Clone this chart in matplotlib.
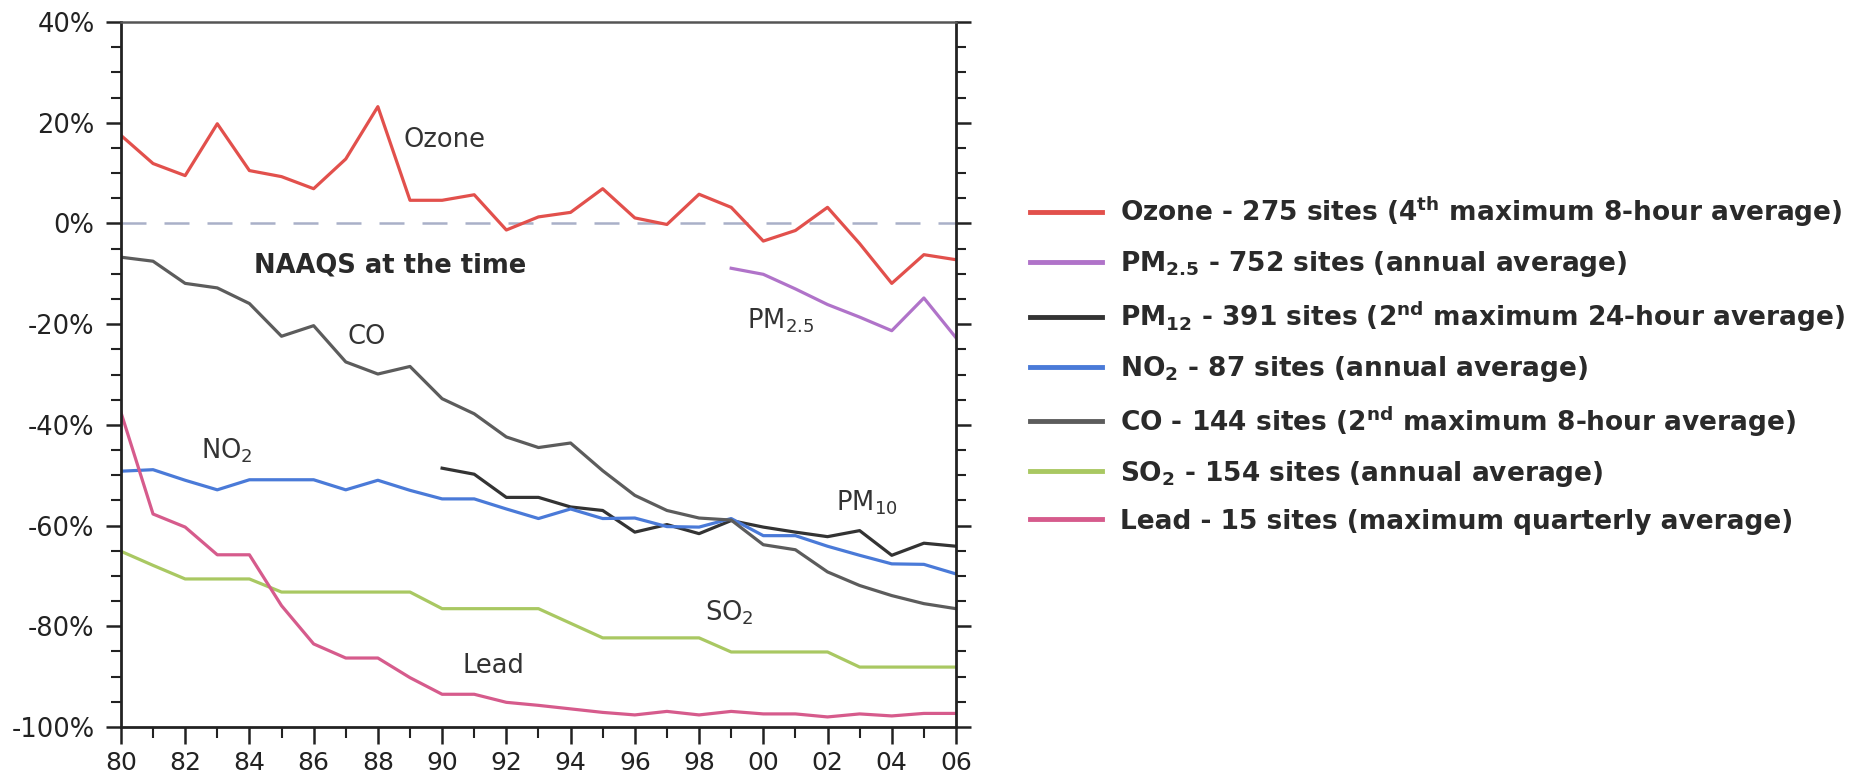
import matplotlib
matplotlib.use("Agg")
import matplotlib.pyplot as plt
from matplotlib.ticker import MultipleLocator, FuncFormatter

plt.rcParams["font.family"] = ["DejaVu Sans"]
plt.rcParams["mathtext.default"] = "regular"

years = list(range(1980, 2007))

ozone = [17.5, 11.9, 9.5, 19.8, 10.5, 9.3, 6.9, 12.8, 23.2, 4.6, 4.6, 5.7, -1.3,
         1.3, 2.2, 6.9, 1.1, -0.2, 5.8, 3.2, -3.5, -1.4, 3.2, -4.0, -11.9, -6.2, -7.2]

pm25_years = list(range(1999, 2007))
pm25 = [-8.9, -10.1, -13.0, -16.1, -18.6, -21.3, -14.8, -22.7]

pm10_years = list(range(1990, 2007))
pm10 = [-48.6, -49.8, -54.4, -54.4, -56.3, -57.0, -61.3, -59.8, -61.6, -59.0,
        -60.3, -61.3, -62.2, -61.0, -65.9, -63.5, -64.1]

no2 = [-49.2, -48.9, -51.0, -52.9, -50.9, -50.9, -50.9, -52.9, -51.0, -53.0, -54.7,
       -54.7, -56.7, -58.6, -56.7, -58.6, -58.5, -60.2, -60.3, -58.6, -62.0, -62.0,
       -64.1, -65.9, -67.6, -67.7, -69.6]

co = [-6.7, -7.5, -11.9, -12.8, -15.9, -22.4, -20.3, -27.5, -29.9, -28.4, -34.8,
      -37.8, -42.4, -44.5, -43.6, -49.1, -54.0, -57.0, -58.5, -58.9, -63.8, -64.8,
      -69.2, -71.9, -73.9, -75.5, -76.5]

so2 = [-65.1, -67.9, -70.6, -70.6, -70.6, -73.2, -73.2, -73.2, -73.2, -73.2, -76.5,
       -76.5, -76.5, -76.5, -79.4, -82.3, -82.3, -82.3, -82.3, -85.1, -85.1, -85.1,
       -85.1, -88.1, -88.1, -88.1, -88.1]

lead = [-37.5, -57.7, -60.3, -65.8, -65.8, -75.9, -83.5, -86.3, -86.3, -90.2, -93.5,
        -93.5, -95.1, -95.7, -96.4, -97.1, -97.6, -96.9, -97.6, -96.9, -97.4, -97.4,
        -98.0, -97.4, -97.8, -97.3, -97.3]

legend_labels = [
    "Ozone - 275 sites (4$^{th}$ maximum 8-hour average)",
    "PM$_{2.5}$ - 752 sites (annual average)",
    "PM$_{12}$ - 391 sites (2$^{nd}$ maximum 24-hour average)",
    "NO$_{2}$ - 87 sites (annual average)",
    "CO - 144 sites (2$^{nd}$ maximum 8-hour average)",
    "SO$_{2}$ - 154 sites (annual average)",
    "Lead - 15 sites (maximum quarterly average)",
]

c_ozone = "#e2504c"
c_pm25 = "#b073c9"
c_pm10 = "#333333"
c_no2 = "#4a7ad8"
c_co = "#5c5c5c"
c_so2 = "#a9c862"
c_lead = "#d65b8c"

fig = plt.figure(figsize=(18.69, 7.73), dpi=100)
ax = fig.add_axes([0.0647, 0.0595, 0.4468, 0.912])

lw = 2.3
ax.axhline(0, color="#a9b0c8", lw=1.8, dashes=(10, 7.2), zorder=1)
h_oz, = ax.plot(years, ozone, color=c_ozone, lw=lw)
h_pm25, = ax.plot(pm25_years, pm25, color=c_pm25, lw=lw)
h_pm10, = ax.plot(pm10_years, pm10, color=c_pm10, lw=lw)
h_no2, = ax.plot(years, no2, color=c_no2, lw=lw)
h_co, = ax.plot(years, co, color=c_co, lw=lw)
h_so2, = ax.plot(years, so2, color=c_so2, lw=lw)
h_lead, = ax.plot(years, lead, color=c_lead, lw=lw)

ax.set_xlim(1980, 2006)
ax.set_ylim(-100, 40)

# y axis: labelled every 20 %, minor ticks every 5 %
ax.yaxis.set_major_locator(MultipleLocator(20))
ax.yaxis.set_minor_locator(MultipleLocator(5))
ax.yaxis.set_major_formatter(FuncFormatter(lambda v, p: f"{int(round(v))}%"))
ax.tick_params(axis="y", which="major", direction="out", length=11, width=1.8,
               labelsize=18.5, pad=8, colors="#222222", right=True)
ax.tick_params(axis="y", which="minor", direction="out", length=7, width=1.5,
               colors="#222222", right=True)

# x axis: every year ticked, every second year labelled
ax.xaxis.set_major_locator(MultipleLocator(2))
ax.xaxis.set_minor_locator(MultipleLocator(1))
ax.xaxis.set_major_formatter(FuncFormatter(lambda v, p: f"{int(v) % 100:02d}"))
ax.tick_params(axis="x", which="major", direction="out", length=12, width=1.8,
               labelsize=18, pad=5, colors="#222222")
ax.tick_params(axis="x", which="minor", direction="out", length=8, width=1.5,
               colors="#222222")
ax.tick_params(axis="y", which="both", labelright=False)

for side in ("left", "bottom", "right"):
    ax.spines[side].set_linewidth(2.0)
    ax.spines[side].set_color("#222222")
ax.spines["top"].set_linewidth(1.8)
ax.spines["top"].set_color("#555555")

# in-plot labels
txt = dict(fontsize=18.5, color="#333333", va="center", ha="left")
ax.text(1988.8, 16.5, "Ozone", **txt)
ax.text(1984.15, -8.3, "NAAQS at the time", fontsize=18.5, fontweight="bold",
        color="#2a2a2a", va="center", ha="left")
ax.text(1987.05, -22.6, "CO", **txt)
ax.text(1982.5, -45.1, "NO$_2$", **txt)
ax.text(1999.5, -19.3, "PM$_{2.5}$", **txt)
ax.text(2002.25, -55.4, "PM$_{10}$", **txt)
ax.text(1998.2, -77.3, "SO$_2$", **txt)
ax.text(1990.65, -87.8, "Lead", **txt)

handles = [h_oz, h_pm25, h_pm10, h_no2, h_co, h_so2, h_lead]
leg = fig.legend(handles, legend_labels, loc="upper left",
                 bbox_to_anchor=(0.551, 0.748), frameon=False,
                 prop={"size": 19, "weight": "bold"}, handlelength=2.73,
                 handletextpad=0.68, labelspacing=0.76, borderpad=0,
                 borderaxespad=0)
for t in leg.get_texts():
    t.set_color("#2a2a2a")
for lh in leg.get_lines():
    lh.set_linewidth(3.5)

fig.savefig("out.png", dpi=100)
